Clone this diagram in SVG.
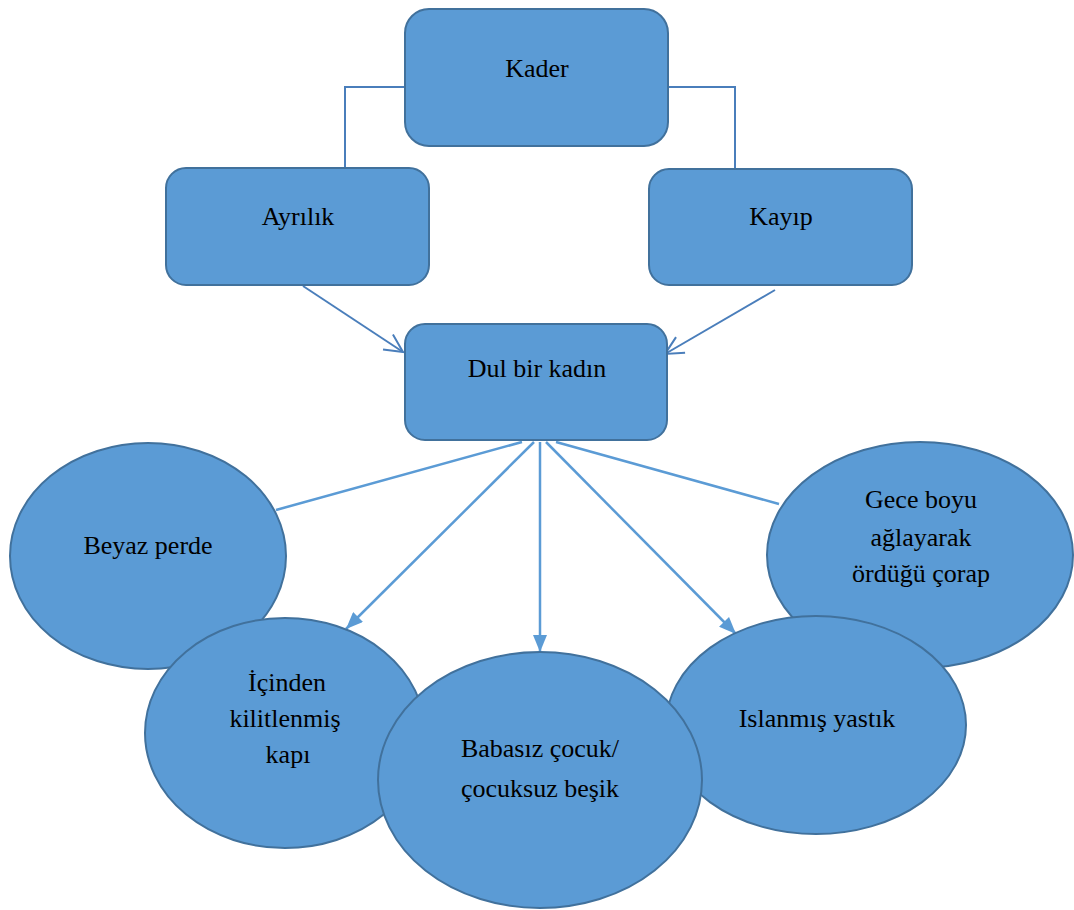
<svg xmlns="http://www.w3.org/2000/svg" width="1074" height="910" viewBox="0 0 1074 910">
  <style>
    .box { fill: #5B9BD5; stroke: #41719C; stroke-width: 2; }
    .oval { fill: #5B9BD5; stroke: #41719C; stroke-width: 2; }
    .lbl { font-family: "Liberation Serif", "Times New Roman", serif; font-size: 26px; fill: #000; text-anchor: middle; }
    .elbow { fill: none; stroke: #4A7EBB; stroke-width: 2; }
    .upper { fill: none; stroke: #4A7EBB; stroke-width: 2; marker-end: url(#open); }
    .lower { fill: none; stroke: #5B9BD5; stroke-width: 2.5; }
    .lower.arr { marker-end: url(#solid); }
  </style>
  <defs>
    <marker id="open" viewBox="0 0 22 22" refX="20" refY="11" markerWidth="22" markerHeight="22" markerUnits="userSpaceOnUse" orient="auto">
      <path d="M2,2 L20,11 L2,20" fill="none" stroke="#4A7EBB" stroke-width="2"/>
    </marker>
    <marker id="solid" viewBox="0 0 17 14" refX="17" refY="7" markerWidth="17" markerHeight="14" markerUnits="userSpaceOnUse" orient="auto">
      <path d="M0,0 L17,7 L0,14 Z" fill="#5B9BD5"/>
    </marker>
  </defs>

  <rect width="1074" height="910" fill="#ffffff"/>

  <!-- connectors -->
  <g id="connectors">
    <polyline class="elbow" points="405,87 345,87 345,168"/>
    <polyline class="elbow" points="668,87 735,87 735,169"/>
    <line class="upper" x1="303" y1="286" x2="403" y2="352"/>
    <line class="upper" x1="775" y1="290" x2="665" y2="354"/>
    <line class="lower" x1="522" y1="442" x2="276" y2="510"/>
    <line class="lower" x1="556" y1="442" x2="779" y2="504"/>
    <line class="lower arr" x1="534" y1="442" x2="346" y2="629"/>
    <line class="lower arr" x1="540" y1="442" x2="540" y2="652"/>
    <line class="lower arr" x1="546" y1="442" x2="736" y2="634"/>
  </g>

  <!-- boxes -->
  <g id="kader">
    <rect class="box" x="405" y="9" width="263" height="137" rx="24"/>
    <text class="lbl" x="537" y="77">Kader</text>
  </g>
  <g id="ayrilik">
    <rect class="box" x="166" y="168" width="263" height="117" rx="20"/>
    <text class="lbl" x="298" y="225">Ayrılık</text>
  </g>
  <g id="kayip">
    <rect class="box" x="649" y="169" width="263" height="116" rx="20"/>
    <text class="lbl" x="781" y="225">Kayıp</text>
  </g>
  <g id="dul">
    <rect class="box" x="405" y="324" width="262" height="116" rx="20"/>
    <text class="lbl" x="537" y="377">Dul bir kadın</text>
  </g>

  <!-- ovals -->
  <g id="beyaz">
    <ellipse class="oval" cx="148" cy="556" rx="138" ry="113"/>
    <text class="lbl" x="148" y="554">Beyaz perde</text>
  </g>
  <g id="gece">
    <ellipse class="oval" cx="920" cy="555" rx="153" ry="113"/>
    <text class="lbl" x="921" y="508">Gece boyu</text>
    <text class="lbl" x="921" y="546">ağlayarak</text>
    <text class="lbl" x="921" y="582">ördüğü çorap</text>
  </g>
  <g id="icinden">
    <ellipse class="oval" cx="285" cy="733" rx="140" ry="115"/>
    <text class="lbl" x="287" y="691">İçinden</text>
    <text class="lbl" x="285" y="727">kilitlenmiş</text>
    <text class="lbl" x="288" y="763">kapı</text>
  </g>
  <g id="islanmis">
    <ellipse class="oval" cx="816" cy="725" rx="150" ry="109"/>
    <text class="lbl" x="817" y="727">Islanmış yastık</text>
  </g>
  <g id="babasiz">
    <ellipse class="oval" cx="540" cy="780" rx="162" ry="128"/>
    <text class="lbl" x="540" y="757">Babasız çocuk/</text>
    <text class="lbl" x="540" y="797">çocuksuz beşik</text>
  </g>
</svg>
